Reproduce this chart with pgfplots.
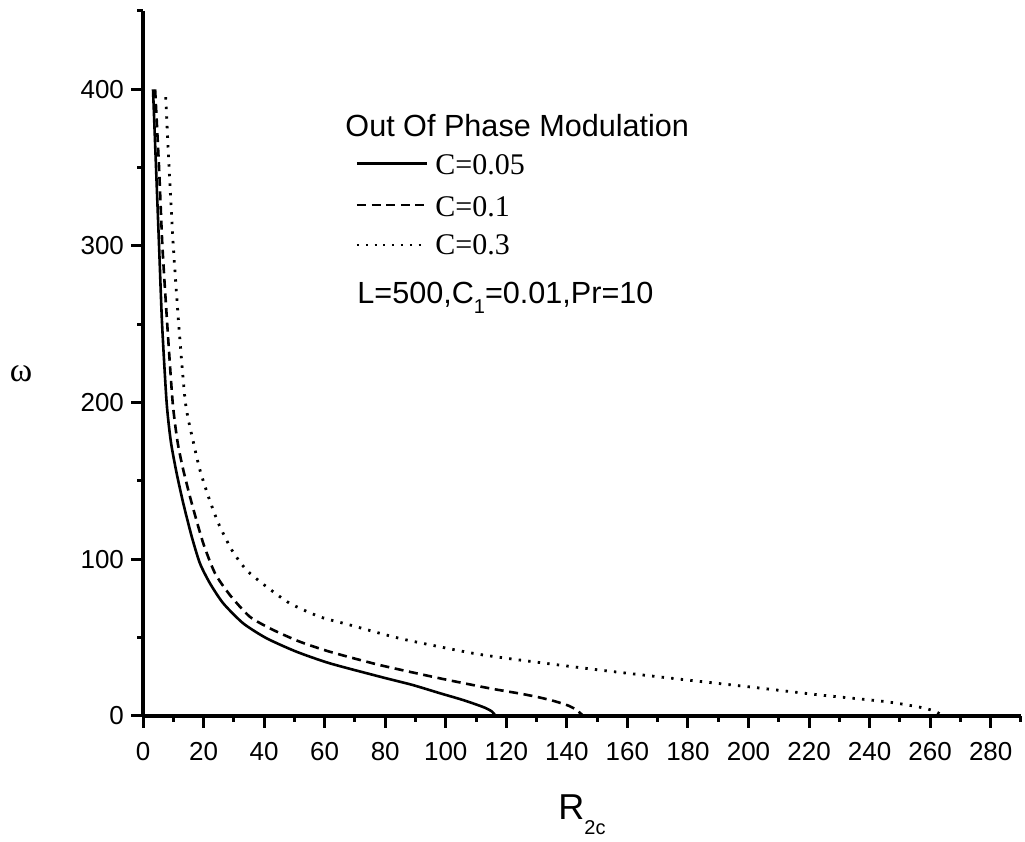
\documentclass[border=0pt]{standalone}
\usepackage{fontspec}
\setmainfont{Liberation Sans}
\newfontfamily\serifff{Liberation Serif}
\usepackage{pgfplots}
\pgfplotsset{compat=1.18}

\pgfplotstableread{
x y
3.3 400
4.3 350
5.3 300
6.3 250
7.8 200
9.2 175
11.1 155
13.3 135.7
16.1 114.4
18.8 97.4
22.1 84.7
26.5 71.9
33.1 59.1
40.8 49.6
50.7 41.0
61.7 33.6
78.2 25.1
89.0 19.8
98.1 14.5
105.0 10.6
109.5 7.7
113.0 5.2
115.2 2.9
116.5 0
}\solid

\pgfplotstableread{
x y
4.0 400
5.3 350
6.4 300
8.0 250
9.8 200
11.4 175
13.3 157
16.1 135.7
19.9 110.2
23.8 91.0
28.7 77.2
35.3 63.3
43.0 54.9
51.8 47.4
61.7 41.0
78.2 32.5
98.1 24.0
114.6 17.6
124.5 14.3
131.0 11.8
136.0 9.4
140.5 6.6
143.3 3.7
145.4 0
}\dashedc

\pgfplotstableread{
x y
7.5 395
8.6 350
10.0 300
11.8 250
14.0 200
16.6 175
18.8 157
21.6 140
24.9 123
29.3 106
34.2 93.1
40.8 82.5
48.5 71.9
58.4 63.3
68.3 58.1
78.2 52.8
87.1 48.5
109.0 40.0
124.5 35.7
150.9 29.3
179.5 23.0
201.5 18.3
223.5 13.4
245.5 9.1
257.6 5.2
262.0 2.6
264.2 0
}\dottedc

\begin{document}
\begin{tikzpicture}
\begin{axis}[
  scale only axis, width=439pt, height=352.5pt,
  xmin=0, xmax=290, ymin=0, ymax=450,
  axis x line*=bottom, axis y line*=left,
  axis line style={line width=2pt},
  xtick={0,20,...,280}, minor x tick num=1,
  ytick={0,100,...,400}, minor y tick num=1,
  extra x ticks={290}, extra x tick labels={},
  extra x tick style={major tick length=3pt},
  extra y ticks={450}, extra y tick labels={},
  extra y tick style={major tick length=3pt},
  tick align=outside, major tick length=6pt, minor tick length=3pt,
  major tick style={line width=1.5pt, black},
  minor tick style={line width=1.5pt, black},
  tick label style={font=\fontsize{13}{15}\selectfont},
  x tick label style={yshift=-3.5pt},
  /pgf/number format/assume math mode=true,
  every axis x label/.style={at={(rel axis cs:0.4727,-0.1475)}, anchor=base west, inner sep=0pt},
  every axis y label/.style={at={(rel axis cs:-0.139,0.4851)}, anchor=center, inner sep=0pt},
  xlabel={\fontsize{18}{20}\selectfont R\raisebox{-7.5pt}{\fontsize{10}{12}\selectfont 2c}},
  ylabel={\serifff\fontsize{17}{19}\selectfont ω},
]
\addplot[black, line width=1.3pt, smooth, tension=0.4] table {\solid};
\addplot[black, line width=1.3pt, smooth, tension=0.4, dash pattern=on 4.5pt off 2.8pt] table {\dashedc};
\addplot[black, line width=1.4pt, smooth, tension=0.4, dash pattern=on 1.2pt off 3.6pt] table {\dottedc};

\node[anchor=base west, inner sep=0pt, font=\fontsize{15.3}{17}\selectfont] at (rel axis cs:0.2301,0.8213) {Out Of Phase Modulation};
\draw[black, line width=1.3pt] (rel axis cs:0.2437,0.7840) -- (rel axis cs:0.3235,0.7840);
\draw[black, line width=1.2pt, dash pattern=on 4.5pt off 2.8pt] (rel axis cs:0.2437,0.7248) -- (rel axis cs:0.3235,0.7248);
\draw[black, line width=1.2pt, dash pattern=on 1pt off 3.4pt] (rel axis cs:0.2437,0.6681) -- (rel axis cs:0.3235,0.6681);
\node[anchor=base west, inner sep=0pt, font=\serifff\fontsize{15}{17}\selectfont] at (rel axis cs:0.3326,0.7674) {C=0.05};
\node[anchor=base west, inner sep=0pt, font=\serifff\fontsize{15}{17}\selectfont] at (rel axis cs:0.3326,0.7083) {C=0.1};
\node[anchor=base west, inner sep=0pt, font=\serifff\fontsize{15}{17}\selectfont] at (rel axis cs:0.3326,0.6539) {C=0.3};
\node[anchor=base west, inner sep=0pt, font=\fontsize{15.3}{17}\selectfont] at (rel axis cs:0.2437,0.5854) {L=500,C\raisebox{-5pt}{\fontsize{10}{12}\selectfont 1}=0.01,Pr=10};

\coordinate (bl) at (rel axis cs:-0.1629,-0.1787);
\coordinate (tr) at (rel axis cs:1.00456,1.0156);
\end{axis}
\pgfresetboundingbox
\path[use as bounding box] (bl) rectangle (tr);
\end{tikzpicture}
\end{document}
